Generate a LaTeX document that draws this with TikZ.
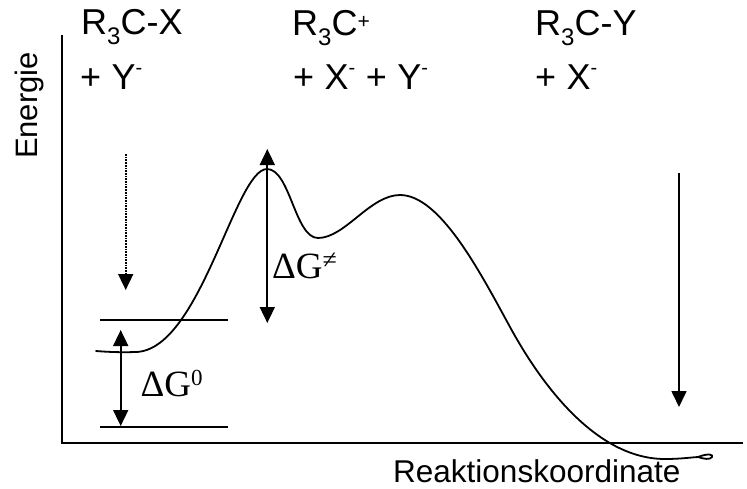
\documentclass[tikz,border=0pt]{standalone}
\usepackage{fontspec}
\setmainfont{Liberation Sans}
\newfontfamily\seriffont{Liberation Serif}
\usetikzlibrary{arrows.meta}
\newcommand{\subthree}{\raisebox{-10pt}{\fontsize{24}{24}\selectfont 3}}
\newcommand{\supplus}{\raisebox{7pt}{\fontsize{21}{21}\selectfont +}}
\newcommand{\supminus}{\raisebox{15pt}{\fontsize{20}{20}\selectfont -}}
\newcommand{\wsp}{\hspace{10.5pt}}
\tikzset{
  lbl/.style={anchor=base west, inner sep=0pt, font=\fontsize{36}{36}\selectfont},
  glbl/.style={anchor=base west, inner sep=0pt, font=\seriffont\fontsize{37}{37}\selectfont},
  axisline/.style={line width=2pt},
  curveline/.style={line width=1.8pt, line cap=round, line join=round},
  levelline/.style={line width=1.7pt},
  dblarrow/.style={line width=1.7pt, {Triangle[length=16pt,width=15pt]}-{Triangle[length=16pt,width=15pt]}},
  downarrow/.style={line width=1.7pt, -{Triangle[length=16pt,width=15pt]}},
}
\begin{document}
\begin{tikzpicture}[x=1pt,y=-1pt]
\useasboundingbox (0,0) rectangle (747,488);
% axes
\coordinate (ytop) at (61.5,35);
\coordinate (origin) at (61.5,443.3);
\coordinate (xend) at (743,443.3);
\draw[axisline] (ytop) -- (origin) -- (xend);
\node[anchor=base, rotate=90, inner sep=0pt, font=\fontsize{31}{31}\selectfont] (energie) at (37.3,105.5) {Energie};
\node[anchor=base west, inner sep=0pt, font=\fontsize{31.5}{31.5}\selectfont] (reak) at (393,482.5) {Reaktionskoordinate};
% top labels
\node[lbl] (l1a) at (81,34) {R\subthree C-X};
\node[lbl] (l1b) at (80,89) {+\wsp Y\supminus};
\node[lbl] (l2a) at (292,35) {R\subthree C\supplus};
\node[lbl] (l2b) at (293,89) {+\wsp X\supminus\wsp +\wsp Y\supminus};
\node[lbl] (l3a) at (535,35) {R\subthree C-Y};
\node[lbl] (l3b) at (535,89) {+\wsp X\supminus};
% energy curve
\draw[curveline] (96,351) .. controls (108,352) and (122,352.5) .. (135,352)
  .. controls (200,352) and (235,169) .. (267,169)
  .. controls (290,169) and (295,238) .. (318,238)
  .. controls (345,238) and (370,195) .. (400,195)
  .. controls (440,195) and (480,272) .. (510,327)
  .. controls (540,382) and (595,459) .. (665,459)
  .. controls (680,459) and (690,457.5) .. (698,457)
  .. controls (708,453) and (714,454.5) .. (712,457)
  .. controls (710,460) and (704,459) .. (698,457);
% levels
\coordinate (u1) at (100,320); \coordinate (u2) at (228,320);
\coordinate (d1) at (100,427); \coordinate (d2) at (228,427);
\draw[levelline] (u1) -- (u2);
\draw[levelline] (d1) -- (d2);
% Delta G0 arrow
\coordinate (g0t) at (120.7,330); \coordinate (g0b) at (120.7,426);
\draw[dblarrow] (g0t) -- (g0b);
\node[glbl] (g0) at (140.5,396.7) {ΔG\raisebox{11pt}{\fontsize{23}{23}\selectfont 0}};
% Delta G not-equal arrow
\coordinate (gat) at (267.3,149); \coordinate (gab) at (267.3,323);
\draw[dblarrow] (gat) -- (gab);
\node[glbl] (ga) at (272,278.3) {ΔG\raisebox{10pt}{\fontsize{26}{26}\selectfont ≠}};
% dotted arrow
\coordinate (dt) at (125.7,154); \coordinate (db) at (125.7,290);
\draw[downarrow, densely dotted] (dt) -- (db);
% right arrow
\coordinate (rt) at (679,173); \coordinate (rb) at (679,407);
\draw[downarrow] (rt) -- (rb);
\end{tikzpicture}
\end{document}
